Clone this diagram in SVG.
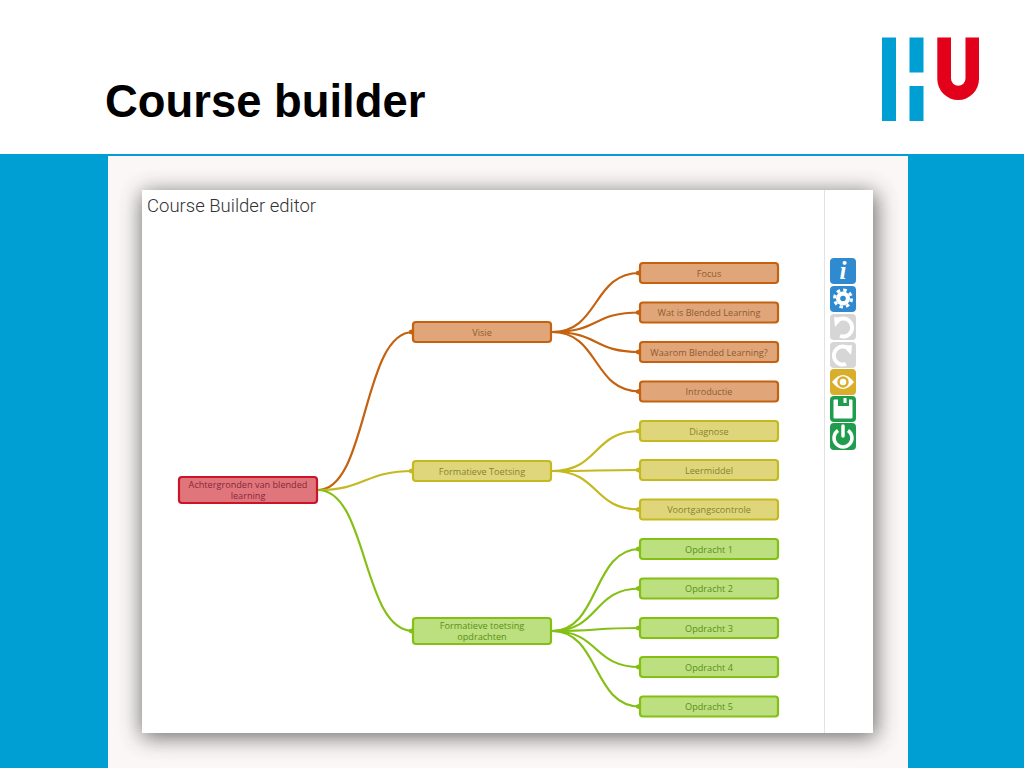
<svg xmlns="http://www.w3.org/2000/svg" width="1024" height="768" viewBox="0 0 1024 768">
<style>
.n rect{stroke-width:2.2}
.t{font-family:"Open Sans","Liberation Sans",sans-serif;font-size:9.15px;text-anchor:middle}
.e{fill:none;stroke-width:2.2}
.o rect{fill:#e0a67a;stroke:#c4620f}.o text{fill:#8f5a30}
.y rect{fill:#dfd67c;stroke:#c4b91f}.y text{fill:#88822a}
.g rect{fill:#bcdf7f;stroke:#84c014}.g text{fill:#5a9018}
.r rect{fill:#e0767c;stroke:#c9142a}.r text{fill:#85283a}
.eo{stroke:#c4620f}.ey{stroke:#c4b91f}.eg{stroke:#84c014}
</style>
<defs>
<filter id="s" x="-10%" y="-10%" width="120%" height="120%"><feGaussianBlur stdDeviation="11"/></filter>
<marker id="mo" markerWidth="4" markerHeight="6" refX="4" refY="3" orient="auto" markerUnits="userSpaceOnUse"><path d="M0 1.5L4 0V6L0 4.5Z" fill="#c4620f"/></marker>
<marker id="my" markerWidth="4" markerHeight="6" refX="4" refY="3" orient="auto" markerUnits="userSpaceOnUse"><path d="M0 1.5L4 0V6L0 4.5Z" fill="#c4b91f"/></marker>
<marker id="mg" markerWidth="4" markerHeight="6" refX="4" refY="3" orient="auto" markerUnits="userSpaceOnUse"><path d="M0 1.5L4 0V6L0 4.5Z" fill="#84c014"/></marker>
</defs>
<rect width="1024" height="768" fill="#fff"/>
<rect y="154" width="1024" height="614" fill="#009fd3"/>
<rect x="108" y="156" width="800" height="612" fill="#faf7f6"/>
<text x="105" y="117" font-family="Liberation Sans,sans-serif" font-weight="700" font-size="45.400" fill="#000">Course builder</text>
<g id="logo">
<rect x="882" y="37.500" width="14" height="83.500" fill="#009fd3"/>
<rect x="909.500" y="37.500" width="14" height="35" fill="#009fd3"/>
<rect x="909.500" y="86" width="14" height="35" fill="#009fd3"/>
<path d="M937.300 37.500H951V78.500A7.250 7.250 0 0 0 965.500 78.500V37.500H979V79A20.850 21 0 0 1 937.300 79Z" fill="#e2001a"/>
</g>
<rect x="142" y="193" width="734" height="544" fill="#444" opacity=".8" filter="url(#s)"/>
<rect x="142" y="190" width="731" height="543" fill="#fff"/>
<line x1="824.500" y1="190" x2="824.500" y2="733" stroke="#e2e2e2"/>
<text x="147" y="212" font-family="Roboto,sans-serif" font-weight="300" font-size="18.500" fill="#333">Course Builder editor</text>
<g id="connectors">
<path class="e eo" marker-end="url(#mo)" d="M318 490C368 490 362 332 413 332"/>
<path class="e ey" marker-end="url(#my)" d="M318 490C365 490 365 471 413 471"/>
<path class="e eg" marker-end="url(#mg)" d="M318 490C368 490 362 631 413 631"/>
<path class="e eo" marker-end="url(#mo)" d="M552 332C600 332 592 273 640 273"/>
<path class="e eo" marker-end="url(#mo)" d="M552 332C600 332 592 312.500 640 312.500"/>
<path class="e eo" marker-end="url(#mo)" d="M552 332C600 332 592 352 640 352"/>
<path class="e eo" marker-end="url(#mo)" d="M552 332C600 332 592 391.500 640 391.500"/>
<path class="e ey" marker-end="url(#my)" d="M552 471C600 471 592 431 640 431"/>
<path class="e ey" marker-end="url(#my)" d="M552 471C600 471 592 470 640 470"/>
<path class="e ey" marker-end="url(#my)" d="M552 471C600 471 592 509.500 640 509.500"/>
<path class="e eg" marker-end="url(#mg)" d="M552 631C600 631 592 549 640 549"/>
<path class="e eg" marker-end="url(#mg)" d="M552 631C600 631 592 588.500 640 588.500"/>
<path class="e eg" marker-end="url(#mg)" d="M552 631C600 631 592 628 640 628"/>
<path class="e eg" marker-end="url(#mg)" d="M552 631C600 631 592 667 640 667"/>
<path class="e eg" marker-end="url(#mg)" d="M552 631C600 631 592 706.500 640 706.500"/>
</g>
<g id="root" class="n r"><rect x="179" y="477" width="138" height="26" rx="3"/><text class="t" x="248" y="488">Achtergronden van blended</text><text class="t" x="248" y="499">learning</text></g>
<g id="visie" class="n o"><rect x="413" y="322" width="138" height="20" rx="3"/><text class="t" x="482" y="335.500">Visie</text></g>
<g id="formatieve-toetsing" class="n y"><rect x="413" y="461" width="138" height="20" rx="3"/><text class="t" x="482" y="474.500">Formatieve Toetsing</text></g>
<g id="formatieve-opdrachten" class="n g"><rect x="413" y="618" width="138" height="26" rx="3"/><text class="t" x="482" y="629">Formatieve toetsing</text><text class="t" x="482" y="640">opdrachten</text></g>
<g id="focus" class="n o"><rect x="640" y="263" width="138" height="20" rx="3"/><text class="t" x="709" y="276.500">Focus</text></g>
<g id="wat" class="n o"><rect x="640" y="302.500" width="138" height="20" rx="3"/><text class="t" x="709" y="316">Wat is Blended Learning</text></g>
<g id="waarom" class="n o"><rect x="640" y="342" width="138" height="20" rx="3"/><text class="t" x="709" y="355.500">Waarom Blended Learning?</text></g>
<g id="introductie" class="n o"><rect x="640" y="381.500" width="138" height="20" rx="3"/><text class="t" x="709" y="395">Introductie</text></g>
<g id="diagnose" class="n y"><rect x="640" y="421" width="138" height="20" rx="3"/><text class="t" x="709" y="434.500">Diagnose</text></g>
<g id="leermiddel" class="n y"><rect x="640" y="460" width="138" height="20" rx="3"/><text class="t" x="709" y="473.500">Leermiddel</text></g>
<g id="voortgang" class="n y"><rect x="640" y="499.500" width="138" height="20" rx="3"/><text class="t" x="709" y="513">Voortgangscontrole</text></g>
<g id="o1" class="n g"><rect x="640" y="539" width="138" height="20" rx="3"/><text class="t" x="709" y="552.500">Opdracht 1</text></g>
<g id="o2" class="n g"><rect x="640" y="578.500" width="138" height="20" rx="3"/><text class="t" x="709" y="592">Opdracht 2</text></g>
<g id="o3" class="n g"><rect x="640" y="618" width="138" height="20" rx="3"/><text class="t" x="709" y="631.500">Opdracht 3</text></g>
<g id="o4" class="n g"><rect x="640" y="657" width="138" height="20" rx="3"/><text class="t" x="709" y="670.500">Opdracht 4</text></g>
<g id="o5" class="n g"><rect x="640" y="696.500" width="138" height="20" rx="3"/><text class="t" x="709" y="710">Opdracht 5</text></g>
<g id="icon-info"><rect x="830" y="258" width="26" height="26" rx="4" fill="#2f8ad0"/><text x="843" y="279" text-anchor="middle" font-family="Liberation Serif,serif" font-style="italic" font-weight="700" font-size="25" fill="#fff">i</text></g>
<g id="icon-settings"><rect x="830" y="286" width="26" height="26" rx="4" fill="#2f8ad0"/><circle cx="843" cy="298.500" r="7" fill="#fff"/><circle cx="843" cy="298.500" r="8.500" fill="none" stroke="#fff" stroke-width="3" stroke-dasharray="3.500 3.170"/><circle cx="843" cy="298.500" r="2.800" fill="#2f8ad0"/></g>
<g id="icon-undo"><rect x="830" y="314" width="26" height="26" rx="4" fill="#d6d6d6"/><path d="M837 321A9 9 0 1 1 840 336" fill="none" stroke="#fff" stroke-width="4"/><path d="M834 317L843 318L835 327Z" fill="#fff"/></g>
<g id="icon-redo"><rect x="830" y="342" width="26" height="26" rx="4" fill="#d6d6d6"/><path d="M849 349A9 9 0 1 0 846 364" fill="none" stroke="#fff" stroke-width="4"/><path d="M852 345L843 346L851 355Z" fill="#fff"/></g>
<g id="icon-preview"><rect x="830" y="369" width="26" height="26" rx="4" fill="#d9ae2b"/><path d="M832 382Q843 368 854 382Q843 396 832 382Z" fill="#fff"/><circle cx="843" cy="382" r="4.500" fill="none" stroke="#d9ae2b" stroke-width="2.500"/></g>
<g id="icon-save"><rect x="830" y="396" width="26" height="26" rx="4" fill="#1f9d4d"/><rect x="833.500" y="399.500" width="19" height="19" rx="1" fill="#fff"/><rect x="838" y="396" width="11" height="10" fill="#1f9d4d"/><rect x="843.500" y="398" width="3" height="5" fill="#fff"/></g>
<g id="icon-power"><rect x="830" y="423" width="26" height="27" rx="4" fill="#1f9d4d"/><path d="M838 430.500A9 9 0 1 0 848 430.500" fill="none" stroke="#fff" stroke-width="3.500"/><line x1="843" y1="426" x2="843" y2="436" stroke="#fff" stroke-width="3.500" stroke-linecap="round"/></g>
</svg>
